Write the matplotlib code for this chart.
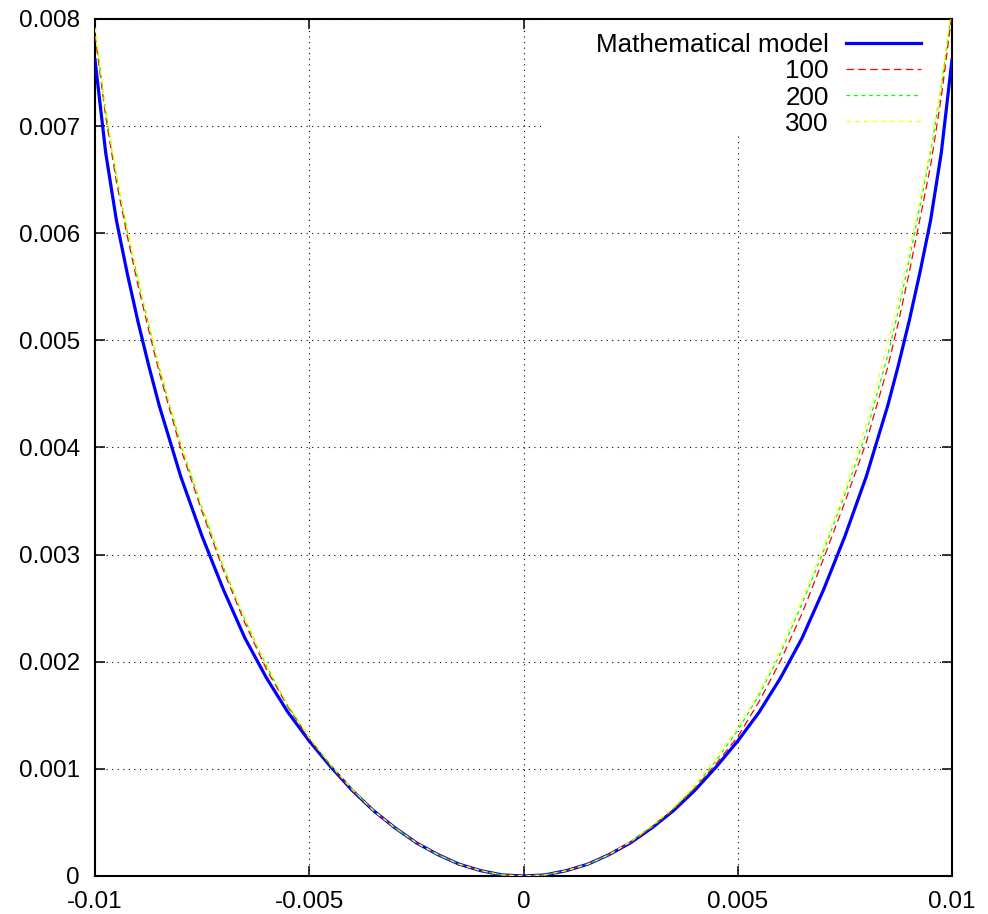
import matplotlib
matplotlib.use("Agg")
import matplotlib.pyplot as plt
from matplotlib.patches import Rectangle

plt.rcParams["font.family"] = ["Liberation Sans", "DejaVu Sans"]

# sample positions
x = [-0.01, -0.00975, -0.0095, -0.00925, -0.009, -0.00875, -0.0085, -0.008,
     -0.0075, -0.007, -0.0065, -0.006, -0.0055, -0.005, -0.0045, -0.004,
     -0.0035, -0.003, -0.0025, -0.002, -0.0015, -0.001, -0.0005, 0.0,
     0.0005, 0.001, 0.0015, 0.002, 0.0025, 0.003, 0.0035, 0.004,
     0.0045, 0.005, 0.0055, 0.006, 0.0065, 0.007, 0.0075, 0.008,
     0.0085, 0.00875, 0.009, 0.00925, 0.0095, 0.00975, 0.01]

model = [0.00762, 0.00675, 0.00612, 0.00563, 0.00518, 0.00477, 0.00439, 0.00373,
         0.00317, 0.00267, 0.00222, 0.00185, 0.00153, 0.00126, 0.00102, 0.00080,
         0.00061, 0.00045, 0.00031, 0.00020, 0.00011, 0.00005, 0.00001, 0.0,
         0.00001, 0.00005, 0.00011, 0.00020, 0.00031, 0.00045, 0.00061, 0.00080,
         0.00102, 0.00126, 0.00153, 0.00185, 0.00222, 0.00267, 0.00317, 0.00373,
         0.00439, 0.00477, 0.00518, 0.00563, 0.00612, 0.00675, 0.00762]

run_100 = [0.00785, 0.00709, 0.00648, 0.00598, 0.00552, 0.00510, 0.00470, 0.00399,
           0.00340, 0.00285, 0.00236, 0.00193, 0.00158, 0.00128, 0.00103, 0.00080,
           0.00061, 0.00045, 0.00031, 0.00020, 0.00011, 0.00005, 0.00001, 0.0,
           0.00001, 0.00005, 0.00011, 0.00020, 0.00031, 0.00046, 0.00062, 0.00082,
           0.00105, 0.00130, 0.00163, 0.00201, 0.00245, 0.00296, 0.00349, 0.00405,
           0.00475, 0.00517, 0.00563, 0.00613, 0.00663, 0.00727, 0.00805]

run_200 = [0.00790, 0.00713, 0.00653, 0.00602, 0.00557, 0.00515, 0.00474, 0.00403,
           0.00343, 0.00288, 0.00239, 0.00196, 0.00159, 0.00129, 0.00103, 0.00081,
           0.00061, 0.00045, 0.00031, 0.00020, 0.00011, 0.00005, 0.00001, 0.0,
           0.00001, 0.00005, 0.00011, 0.00020, 0.00032, 0.00046, 0.00063, 0.00083,
           0.00108, 0.00136, 0.00169, 0.00208, 0.00254, 0.00303, 0.00356, 0.00414,
           0.00486, 0.00528, 0.00575, 0.00625, 0.00675, 0.00737, 0.00810]

run_300 = [0.00792, 0.00715, 0.00655, 0.00605, 0.00559, 0.00517, 0.00476, 0.00405,
           0.00345, 0.00290, 0.00240, 0.00197, 0.00160, 0.00129, 0.00104, 0.00081,
           0.00061, 0.00045, 0.00031, 0.00020, 0.00011, 0.00005, 0.00001, 0.0,
           0.00001, 0.00005, 0.00011, 0.00020, 0.00032, 0.00047, 0.00064, 0.00085,
           0.00111, 0.00139, 0.00172, 0.00212, 0.00258, 0.00307, 0.00361, 0.00422,
           0.00497, 0.00538, 0.00583, 0.00631, 0.00680, 0.00740, 0.00815]

labels = ["Mathematical model", "100", "200", "300"]
xticks = [-0.01, -0.005, 0, 0.005, 0.01]
xticklabels = ["-0.01", "-0.005", "0", "0.005", "0.01"]
yticks = [0, 0.001, 0.002, 0.003, 0.004, 0.005, 0.006, 0.007, 0.008]
yticklabels = ["0", "0.001", "0.002", "0.003", "0.004", "0.005", "0.006", "0.007", "0.008"]

fig = plt.figure(figsize=(9.88, 9.14), dpi=100)
ax = fig.add_axes([95 / 988, 38 / 914, 857 / 988, 857 / 914])

ax.plot(x, model, color="#0000ff", lw=2.3, label=labels[0], zorder=3)
ax.plot(x, run_100, color="#ff0000", lw=0.9, dashes=(6, 3.5), label=labels[1], zorder=3.1)
ax.plot(x, run_200, color="#00ff00", lw=0.9, dashes=(3, 3), label=labels[2], zorder=3.2)
ax.plot(x, run_300, color="#ffff00", lw=0.9, dashes=(3.5, 3.5), label=labels[3], zorder=3.3)

ax.set_xlim(-0.01, 0.01)
ax.set_ylim(0, 0.008)
ax.set_xticks(xticks)
ax.set_xticklabels(xticklabels)
ax.set_yticks(yticks)
ax.set_yticklabels(yticklabels)
ax.tick_params(direction="in", length=7, width=1.1, labelsize=17.5, pad=11,
               top=True, right=True)
ax.grid(True, color="black", lw=0.8, linestyle=(0, (1, 4)), zorder=1)
ax.set_axisbelow(True)
for sp in ax.spines.values():
    sp.set_linewidth(1.5)

# key area is cleared over the grid, as gnuplot does
ax.add_patch(Rectangle((0.525, 0.867), 0.475, 0.133, transform=ax.transAxes,
                       facecolor="white", edgecolor="none", zorder=1.6))

leg = ax.legend(loc="upper right", bbox_to_anchor=(0.988, 1.0075), frameon=False,
                markerfirst=False, fontsize=18.7, handlelength=2.9,
                handletextpad=0.65, labelspacing=0.08, borderaxespad=0.5,
                borderpad=0.3)
leg.set_zorder(2)

fig.savefig("out.png", dpi=100)
plt.close(fig)
